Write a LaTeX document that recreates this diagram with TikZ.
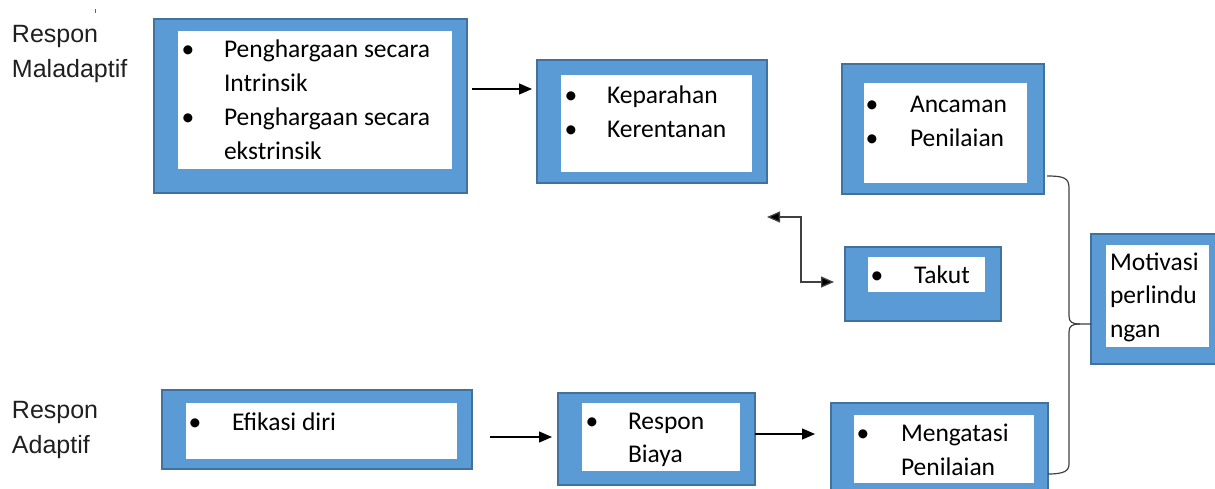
\documentclass[tikz,border=0pt]{standalone}
\usepackage{fontspec}
\setmainfont{Carlito}
\newfontfamily\arialf{Liberation Sans}
\usetikzlibrary{arrows.meta}
\definecolor{boxfill}{HTML}{5B9BD5}
\definecolor{boxline}{HTML}{41719C}
\definecolor{bracec}{HTML}{404040}
\tikzset{
  outerbox/.style={draw=boxline, fill=boxfill, line width=2pt, inner sep=0pt, outer sep=0pt, anchor=north west},
  innerbox/.style={fill=white, draw=none, inner sep=0pt, outer sep=0pt, anchor=north west},
  txt/.style={inner sep=0pt, outer sep=0pt, anchor=base west, font=\fontsize{25.5}{34}\selectfont, text=black},
  bul/.style={inner sep=0pt, outer sep=0pt, anchor=base, font=\fontsize{25.5}{34}\selectfont, text=black},
  lbl/.style={inner sep=0pt, outer sep=0pt, anchor=base west, font=\arialf\fontsize{25}{34}\selectfont, text=black!88},
  arr/.style={draw=black, line width=1.3pt, -{Triangle[length=13pt,width=11pt]}},
  darr/.style={draw=black!75, line width=1.3pt, {Triangle[length=13pt,width=11pt,fill=black]}-{Triangle[length=13pt,width=11pt,fill=black]}},
  bracel/.style={draw=bracec, line width=1.2pt}
}
\begin{document}
\begin{tikzpicture}[x=1pt,y=-1pt]
\useasboundingbox (0,0) rectangle (1215,488);
\clip (0,0) rectangle (1215,488);

% stray tick
\draw[black!60, line width=0.8pt] (95,9) -- (95,13);

% side labels
\node[lbl] (lm1) at (12,42) {Respon};
\node[lbl] (lm2) at (12,77) {Maladaptif};
\node[lbl] (la1) at (12,418) {Respon};
\node[lbl] (la2) at (12,453) {Adaptif};

% box 1: Penghargaan
\node[outerbox, minimum width=313pt, minimum height=174pt] (pen) at (154,19) {};
\node[innerbox, minimum width=274pt, minimum height=138pt] (peni) at (178,31) {};
\node[bul] (penb1) at (188,57) {•};
\node[txt] (pent1) at (224,57) {Penghargaan secara};
\node[txt] (pent2) at (224,91) {Intrinsik};
\node[bul] (penb2) at (188,125) {•};
\node[txt] (pent3) at (224,125) {Penghargaan secara};
\node[txt] (pent4) at (224,159) {ekstrinsik};

% box 2: Keparahan
\node[outerbox, minimum width=230pt, minimum height=123pt] (kep) at (537,60) {};
\node[innerbox, minimum width=191pt, minimum height=97pt] (kepi) at (561,75) {};
\node[bul] (kepb1) at (571,103) {•};
\node[txt] (kept1) at (607,103) {Keparahan};
\node[bul] (kepb2) at (571,137) {•};
\node[txt] (kept2) at (607,137) {Kerentanan};

% box 3: Ancaman
\node[outerbox, minimum width=202pt, minimum height=130pt] (anc) at (842,64) {};
\node[innerbox, minimum width=163pt, minimum height=100pt] (anci) at (864,83) {};
\node[bul] (ancb1) at (872,112) {•};
\node[txt] (anct1) at (910,112) {Ancaman};
\node[bul] (ancb2) at (872,146) {•};
\node[txt] (anct2) at (910,146) {Penilaian};

% box 4: Takut
\node[outerbox, minimum width=156pt, minimum height=74pt] (tak) at (845,247) {};
\node[innerbox, minimum width=117pt, minimum height=35pt] (taki) at (868,257) {};
\node[bul] (takb) at (877,283) {•};
\node[txt] (takt) at (914,283) {Takut};

% box 5: Motivasi
\node[outerbox, minimum width=140pt, minimum height=130pt] (mot) at (1091,234) {};
\node[innerbox, minimum width=103pt, minimum height=102pt] (moti) at (1106,245) {};
\node[txt] (mott1) at (1110,270) {Motivasi};
\node[txt] (mott2) at (1110,303.5) {perlindu};
\node[txt] (mott3) at (1110,337) {ngan};

% box 6: Efikasi
\node[outerbox, minimum width=310pt, minimum height=79pt] (efi) at (162,390) {};
\node[innerbox, minimum width=271pt, minimum height=56pt] (efii) at (186,403) {};
\node[bul] (efib) at (195,430) {•};
\node[txt] (efit) at (232,430) {Efikasi diri};

% box 7: Respon Biaya
\node[outerbox, minimum width=197pt, minimum height=92pt] (res) at (558,393) {};
\node[innerbox, minimum width=158pt, minimum height=68pt] (resi) at (582,403) {};
\node[bul] (resb) at (592,429) {•};
\node[txt] (rest1) at (628,429) {Respon};
\node[txt] (rest2) at (628,462) {Biaya};

% box 8: Mengatasi
\node[outerbox, minimum width=217pt, minimum height=88pt] (men) at (831,403) {};
\node[innerbox, minimum width=180pt, minimum height=68pt] (meni) at (854,415) {};
\node[bul] (menb) at (863,441) {•};
\node[txt] (ment1) at (901,441) {Mengatasi};
\node[txt] (ment2) at (901,475) {Penilaian};

% connectors
\coordinate (a1s) at (472,89);
\draw[arr, shorten >=5pt] (a1s) -- (kep.west |- a1s);

\coordinate (a2s) at (490,437);
\draw[arr, shorten >=6pt] (a2s) -- (res.west |- a2s);

\coordinate (a3s) at (755,434);
\draw[arr, shorten >=16pt] (a3s) -- (men.west |- a3s);

\coordinate (e1) at (767,217);
\coordinate (e2) at (801,282);
\draw[darr, shorten >=11pt] (e1) -| (e2) -- (tak.west |- e2);

% brace
\coordinate (bt) at (1047,176);
\coordinate (bb) at (1048,474);
\coordinate (bm) at (1080,324);
\draw[bracel] (bt) .. controls (1064,176) and (1069,178) .. (1069,188)
  -- (1069,316) .. controls (1069,322) and (1072,324) .. (bm)
  -- (mot.west |- bm);
\draw[bracel] (bm) .. controls (1072,324) and (1069,326) .. (1069,332)
  -- (1069,464) .. controls (1069,471) and (1064,474) .. (bb);
\end{tikzpicture}
\end{document}
